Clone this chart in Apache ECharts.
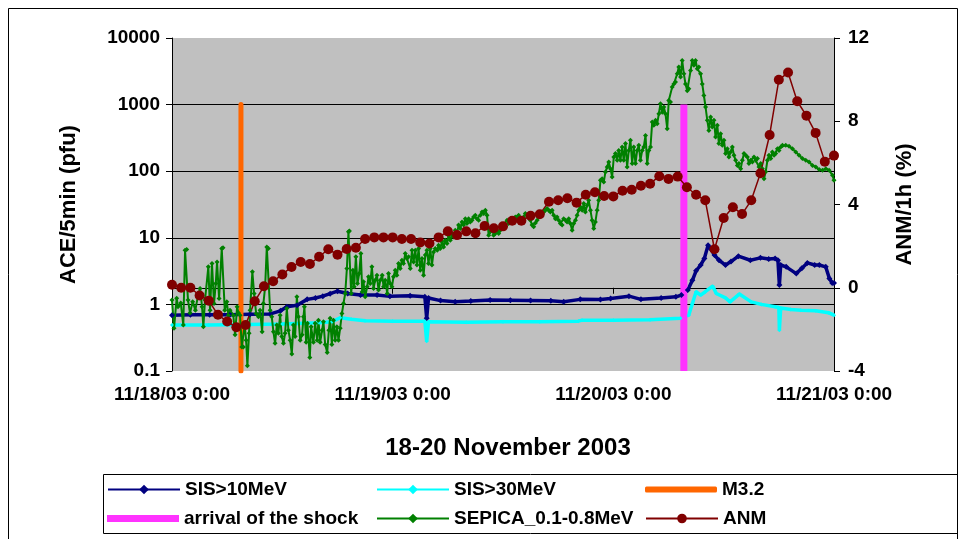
<!DOCTYPE html>
<html>
<head>
<meta charset="utf-8">
<script src="https://cdn.jsdelivr.net/npm/echarts@6/dist/echarts.min.js"></script>
<style>html,body{margin:0;padding:0;background:#fff}#c{width:965px;height:539px}</style>
</head>
<body>
<div id="c"></div>
<script>
// ---- tick labels / texts ----
const xTickLabels = ['11/18/03 0:00', '11/19/03 0:00', '11/20/03 0:00', '11/21/03 0:00'];
const leftTickLabels = ['0.1', '1', '10', '100', '1000', '10000'];
const rightTickValues = [-4, 0, 4, 8, 12];
const chartTitle = '18-20 November 2003';
const leftAxisName = 'ACE/5min (pfu)';
const rightAxisName = 'ANM/1h (%)';
const seriesNames = ['SIS>10MeV', 'SIS>30MeV', 'M3.2', 'arrival of the shock', 'SEPICA_0.1-0.8MeV', 'ANM'];

// ---- data: [hours since 11/18/03 0:00, value] ----
const sis10 = [[0,0.69],[2,0.7],[4.1,0.7],[6.3,0.7],[8.5,0.71],[10.7,0.72],[11.8,0.8],[12.5,0.92],[13.6,0.97],[14.7,1.19],[15.6,1.25],[16.4,1.33],[17.2,1.45],[18,1.58],[19.1,1.46],[20.5,1.38],[22.3,1.38],[23.7,1.32],[25.9,1.35],[27.5,1.3],[27.7,0.62],[27.9,1.25],[29.2,1.14],[30.8,1.1],[32.5,1.12],[34.6,1.16],[36.8,1.15],[39,1.14],[41.2,1.13],[42.6,1.1],[44.4,1.19],[46.6,1.18],[47.7,1.23],[49.7,1.33],[51,1.19],[53.2,1.25],[54.8,1.3],[55.4,1.38],[56.1,1.64],[56.6,2.3],[57,3.2],[57.5,3.9],[57.9,4.9],[58.3,7.7],[58.6,6.8],[59,5.5],[59.5,4.6],[60.2,3.9],[60.8,4.4],[61.6,5.3],[62.9,4.6],[64,5.0],[64.9,4.8],[65.6,4.9],[65.9,4.6],[66.06,1.95],[66.2,3.9],[66.8,3.66],[67.9,2.9],[68.5,3.5],[69.1,4.2],[69.9,3.9],[70.4,3.9],[71.1,3.66],[71.5,2.45],[71.8,2.1],[72,2.1]];

const sis30 = [[0,0.49],[4,0.49],[8,0.5],[12,0.51],[16,0.53],[17.4,0.55],[18.3,0.63],[19.5,0.6],[21,0.57],[24,0.56],[27.5,0.56],[27.7,0.28],[27.9,0.55],[32,0.54],[36,0.55],[40,0.55],[44.2,0.56],[44.6,0.58],[48,0.58],[52,0.59],[55.3,0.62],[56.2,0.69],[56.6,1.03],[57,1.55],[57.5,1.38],[58,1.55],[58.8,1.88],[59.2,1.46],[60.2,1.25],[60.7,1.09],[61.7,1.43],[63,1.09],[64.1,1.0],[65.6,0.92],[66.0,0.9],[66.06,0.41],[66.2,0.88],[67.3,0.84],[68.4,0.82],[70,0.8],[71.4,0.75],[72,0.69]];

const sepica = [[0,1.16],[0.22,0.44],[0.51,1.24],[0.65,0.92],[0.95,1.05],[1.23,0.49],[1.42,6.5],[1.6,6.7],[1.74,1.16],[1.96,0.74],[2.25,1.1],[2.54,0.82],[2.8,1.3],[3.05,1.74],[3.27,0.92],[3.41,0.46],[3.59,1.16],[3.95,3.66],[4.14,0.82],[4.35,4.1],[4.57,1.03],[4.76,2.06],[4.9,4.35],[5.12,1.23],[5.41,6.9],[5.55,7.1],[5.74,0.82],[5.96,1.1],[6.13,0.69],[6.31,0.82],[6.67,0.69],[6.86,0.35],[7.08,0.92],[7.22,0.75],[7.4,0.69],[7.59,0.23],[7.76,0.23],[7.91,0.49],[8.06,0.29],[8.2,0.12],[8.38,0.37],[8.49,0.82],[8.74,3.08],[8.93,1.46],[9.15,0.73],[9.4,0.65],[9.58,0.82],[9.8,0.39],[9.94,1.03],[10.13,1.84],[10.31,7.3],[10.48,6.9],[10.67,0.82],[10.85,0.65],[11.03,0.39],[11.21,0.26],[11.4,0.49],[11.57,0.37],[11.76,0.69],[11.94,0.33],[12.12,0.26],[12.3,0.37],[12.49,0.87],[12.66,0.41],[12.85,0.29],[13.03,0.18],[13.21,0.49],[13.39,0.33],[13.58,1.3],[13.75,0.65],[13.94,0.29],[14.15,0.35],[14.3,0.65],[14.4,0.92],[14.59,0.27],[14.73,0.52],[14.99,0.16],[15.13,0.46],[15.38,0.27],[15.57,0.52],[15.79,0.29],[15.93,0.58],[16.11,0.27],[16.33,0.41],[16.47,0.55],[16.66,0.25],[16.88,0.19],[17.06,0.41],[17.2,0.62],[17.39,0.25],[17.56,0.58],[17.75,0.29],[17.93,0.46],[18.11,0.29],[18.29,0.44],[18.48,0.73],[18.65,1.03],[18.84,1.46],[19.02,3.46],[19.19,12.3],[19.3,12.6],[19.49,1.46],[19.67,3.27],[19.81,1.84],[20,5.2],[20.17,2.06],[20.36,2.9],[20.54,5.8],[20.69,1.55],[20.83,2.18],[21.01,1.3],[21.23,1.84],[21.37,2.6],[21.56,2.06],[21.74,3.66],[21.92,1.74],[22.1,2.3],[22.29,2.75],[22.46,1.64],[22.65,2.3],[22.86,2.75],[23.01,1.84],[23.19,2.3],[23.41,1.46],[23.55,2.9],[23.73,2.06],[23.92,1.84],[24.09,2.6],[24.28,3.27],[24.46,2.75],[24.64,4.1],[24.82,3.46],[25.01,4.6],[25.18,4.1],[25.37,5.8],[25.55,4.9],[25.73,5.2],[25.91,3.46],[26.1,6.5],[26.27,4.35],[26.46,6.5],[26.64,3.9],[26.82,6.9],[27,3.27],[27.19,4.9],[27.36,2.75],[27.55,5.5],[27.73,6.5],[27.9,4.1],[28.09,6.9],[28.27,3.9],[28.45,6.1],[28.63,6.9],[28.85,6.5],[28.99,7.7],[29.18,6.9],[29.36,8.7],[29.54,7.3],[29.72,9.2],[29.91,8.2],[30.08,10.9],[30.27,9.2],[30.45,11.6],[30.63,10.3],[30.81,13],[31,11.6],[31.17,15.5],[31.36,13.8],[31.54,17.3],[31.71,15.5],[31.9,19.4],[32.08,16.4],[32.26,19.4],[32.44,17.3],[32.63,18.4],[32.8,20.6],[32.99,21.9],[33.17,19.4],[33.35,18.4],[33.53,21.9],[33.72,24.5],[33.89,23.2],[34.08,26],[34.26,21.9],[34.44,10.9],[34.62,12.3],[34.84,13.8],[34.98,10.9],[35.17,11.6],[35.35,13],[35.53,11.6],[35.71,13],[35.89,13.8],[36.07,15.5],[36.26,14.6],[36.44,18.4],[36.62,16.4],[36.8,17.3],[36.98,19.4],[37.16,18.4],[37.34,20.6],[37.53,19.4],[37.7,21.9],[37.89,19.4],[38.07,18.4],[38.25,20.6],[38.43,23.2],[38.62,21.9],[38.79,20.6],[38.98,18.4],[39.16,15.5],[39.34,14.6],[39.52,16.7],[39.71,18.4],[39.88,20.6],[40.07,21.9],[40.25,23.2],[40.42,24.5],[40.61,26],[40.79,27.5],[40.97,26],[41.15,24.5],[41.34,26],[41.51,21.9],[41.7,19.4],[41.88,20.6],[42.06,18.4],[42.24,16.4],[42.43,15.5],[42.6,19.4],[42.79,18.4],[42.97,17.3],[43.15,19.4],[43.33,16.4],[43.52,13],[43.69,16.4],[43.88,18.4],[44.06,21.9],[44.24,26],[44.42,29],[44.61,26],[44.78,32.6],[44.96,24.5],[45.15,30.8],[45.32,36.6],[45.51,26],[45.69,18.4],[45.87,13.8],[46.05,17.3],[46.24,26],[46.41,36.6],[46.6,73],[46.78,77],[46.96,69],[47.14,97],[47.33,116],[47.5,138],[47.69,109],[47.87,82],[48.05,163],[48.23,184],[48.42,146],[48.59,205],[48.77,146],[48.96,231],[49.13,146],[49.32,260],[49.5,116],[49.68,205],[49.86,292],[50.05,130],[50.22,231],[50.41,130],[50.59,205],[50.77,245],[50.95,146],[51.14,205],[51.31,231],[51.5,345],[51.68,130],[51.86,205],[52.04,231],[52.23,550],[52.4,490],[52.59,580],[52.77,515],[52.95,730],[53.13,1030],[53.32,770],[53.49,920],[53.67,730],[53.86,435],[54.03,1150],[54.22,1090],[54.4,1830],[54.58,2040],[54.76,2180],[54.95,2900],[55.12,3660],[55.31,2600],[55.49,4600],[55.67,2900],[55.85,2040],[56.04,1620],[56.21,1730],[56.4,3240],[56.58,4600],[56.76,3900],[56.94,4600],[57.13,3450],[57.3,3660],[57.49,2900],[57.67,2040],[57.85,1370],[58.03,920],[58.22,580],[58.39,410],[58.58,650],[58.76,460],[58.94,580],[59.12,325],[59.31,490],[59.48,260],[59.67,365],[59.85,245],[60.03,292],[60.21,184],[60.4,218],[60.57,163],[60.75,194],[60.94,231],[61.12,173],[61.3,146],[61.49,122],[61.66,130],[61.85,109],[62.03,146],[62.21,184],[62.39,173],[62.58,163],[62.75,130],[62.94,146],[63.12,138],[63.3,163],[63.48,146],[63.67,155],[63.84,116],[64.03,130],[64.21,109],[64.39,77],[64.57,98],[64.76,146],[64.93,173],[65.12,155],[65.3,194],[65.48,173],[65.66,184],[65.85,218],[66.02,205],[66.21,231],[66.39,245],[66.75,245],[67.11,236],[67.48,218],[67.84,194],[68.2,173],[68.57,155],[68.93,146],[69.29,138],[69.66,122],[70.02,116],[70.38,106],[70.75,103],[71.11,109],[71.47,103],[71.84,87],[72,73]];

// ANM hourly values, starting 11/18/03 0:00
const anmStepHours = 1;
const anmValues = [0.14,0,0,-0.37,-0.62,-1.30,-1.62,-1.90,-1.79,-0.65,0.07,0.31,0.64,1.0,1.24,1.14,1.49,1.85,1.59,1.86,1.92,2.34,2.42,2.42,2.42,2.34,2.34,2.18,2.13,2.42,2.71,2.53,2.71,2.62,2.97,2.86,2.95,3.22,3.22,3.46,3.53,4.13,4.20,4.30,4.09,4.47,4.59,4.41,4.39,4.66,4.71,4.90,5.0,5.36,5.23,5.34,4.83,4.47,4.20,1.85,3.35,3.87,3.54,4.20,5.50,7.34,9.99,10.34,8.96,8.27,7.44,6.06,6.35];

// event markers: time (hours) and vertical extent (pfu)
const m32Hour = 7.5;
const m32Range = [0.1, 1000];
const shockHour = 55.67;
const shockRange = [0.1, 1000];

// ---- chart ----
const FONT = '"Liberation Sans", Arial, sans-serif';
const chart = echarts.init(document.getElementById('c'), null, {renderer: 'canvas'});

const legendPos = [
  {left: 107, top: 480}, {left: 376, top: 480}, {left: 645, top: 480},
  {left: 107, top: 509}, {left: 376, top: 509}, {left: 645, top: 509}
];
const legendIcons = [null, null, 'roundRect', 'rect', null, null];
const legendIconH = [12, 12, 6, 7, 12, 12];
const legends = seriesNames.map((n, i) => ({
  data: [legendIcons[i] ? {name: n, icon: legendIcons[i]} : n],
  left: legendPos[i].left, top: legendPos[i].top,
  itemWidth: 72, itemHeight: legendIconH[i], itemGap: 0, padding: 0, selectedMode: false,
  textStyle: {fontFamily: FONT, fontWeight: 'bold', fontSize: 19, color: '#000'}
}));

const option = {
  animation: false,
  backgroundColor: '#fff',
  textStyle: {fontFamily: FONT},
  title: {
    text: chartTitle, left: 503, top: 431, textAlign: 'center',
    textStyle: {fontFamily: FONT, fontWeight: 'bold', fontSize: 24, color: '#000'}
  },
  legend: legends,
  graphic: [
    {type: 'rect', shape: {x: 8.5, y: 8.5, width: 949, height: 560}, style: {fill: 'none', stroke: '#000', lineWidth: 1}, silent: true, z: 0},
    {type: 'rect', shape: {x: 103.5, y: 474.5, width: 854, height: 59}, style: {fill: 'none', stroke: '#000', lineWidth: 1}, silent: true, z: 0}
  ],
  grid: {left: 172, right: 131, top: 38, bottom: 168, show: true, backgroundColor: '#C0C0C0', borderWidth: 0},
  xAxis: {
    type: 'value', min: 0, max: 72, interval: 24,
    axisLine: {show: true, lineStyle: {color: '#000', width: 1}},
    axisTick: {show: true, length: 6, lineStyle: {color: '#000'}},
    splitLine: {show: false},
    axisLabel: {
      margin: 14, fontFamily: FONT, fontWeight: 'bold', fontSize: 19, color: '#000',
      formatter: v => xTickLabels[Math.round(v / 24)]
    }
  },
  yAxis: [
    {
      type: 'log', logBase: 10, min: 0.1, max: 10000,
      name: leftAxisName, nameLocation: 'middle', nameRotate: 90, nameGap: 92,
      nameTextStyle: {fontFamily: FONT, fontWeight: 'bold', fontSize: 22, color: '#000'},
      axisLine: {show: true, lineStyle: {color: '#000'}},
      axisTick: {show: true, length: 6, lineStyle: {color: '#000'}},
      minorTick: {show: false},
      splitLine: {show: true, showMaxLine: false, showMinLine: false, lineStyle: {color: '#000', width: 1}},
      axisLabel: {
        margin: 12, fontFamily: FONT, fontWeight: 'bold', fontSize: 19, color: '#000',
        formatter: v => leftTickLabels[Math.round(Math.log10(v)) + 1]
      }
    },
    {
      type: 'value', position: 'right', min: rightTickValues[0], max: rightTickValues[rightTickValues.length - 1], interval: 4,
      name: rightAxisName, nameLocation: 'middle', nameRotate: 90, nameGap: 60,
      nameTextStyle: {fontFamily: FONT, fontWeight: 'bold', fontSize: 22, color: '#000'},
      axisLine: {show: true, lineStyle: {color: '#000'}},
      axisTick: {show: true, length: 6, lineStyle: {color: '#000'}},
      splitLine: {show: false},
      axisLabel: {margin: 14, fontFamily: FONT, fontWeight: 'bold', fontSize: 19, color: '#000'}
    }
  ],
  series: [
    {
      name: seriesNames[0], type: 'line', yAxisIndex: 0, data: sis10,
      symbol: 'diamond', symbolSize: 6, color: '#000080',
      lineStyle: {width: 3.5, color: '#000080'}, itemStyle: {color: '#000080'}, silent: true
    },
    {
      name: seriesNames[1], type: 'line', yAxisIndex: 0, data: sis30,
      symbol: 'diamond', symbolSize: 4, color: '#00FFFF',
      lineStyle: {width: 3.5, color: '#00FFFF'}, itemStyle: {color: '#00FFFF'}, silent: true
    },
    {
      name: seriesNames[2], type: 'line', yAxisIndex: 0,
      data: m32Range.map(v => [m32Hour, v]),
      symbol: 'none', color: '#FF6600',
      lineStyle: {width: 5, color: '#FF6600', cap: 'round'}, itemStyle: {color: '#FF6600'}, silent: true
    },
    {
      name: seriesNames[3], type: 'line', yAxisIndex: 0,
      data: shockRange.map(v => [shockHour, v]),
      symbol: 'none', color: '#FF33FF',
      lineStyle: {width: 7, color: '#FF33FF'}, itemStyle: {color: '#FF33FF'}, silent: true
    },
    {
      name: seriesNames[4], type: 'line', yAxisIndex: 0, data: sepica,
      symbol: 'diamond', symbolSize: 5, color: '#008000',
      lineStyle: {width: 2, color: '#008000'}, itemStyle: {color: '#008000'}, silent: true
    },
    {
      name: seriesNames[5], type: 'line', yAxisIndex: 1,
      data: anmValues.map((v, i) => [i * anmStepHours, v]),
      symbol: 'circle', symbolSize: 10, color: '#800000',
      lineStyle: {width: 1.5, color: '#800000'}, itemStyle: {color: '#800000'}, silent: true
    }
  ]
};
chart.setOption(option);
</script>
</body>
</html>
